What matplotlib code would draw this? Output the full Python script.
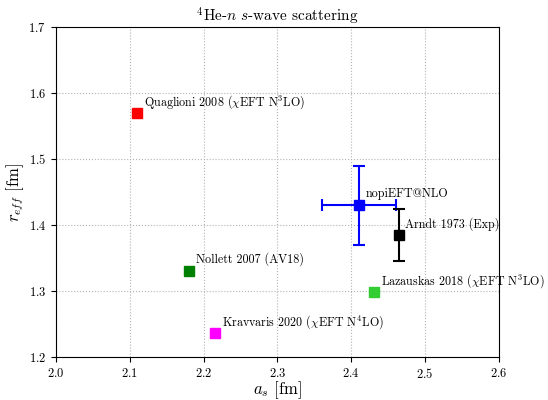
import matplotlib
matplotlib.use("Agg")
from matplotlib import pyplot as plt

plt.rcParams["font.family"] = "serif"
plt.rcParams["font.serif"] = ["cmr10", "DejaVu Serif"]
plt.rcParams["mathtext.fontset"] = "cm"
plt.rcParams["axes.formatter.use_mathtext"] = True

# points without error bars
names = ["Quaglioni 2008 ($\\chi$EFT N$^3$LO)", "Nollett 2007 (AV18)",
         "Kravvaris 2020 ($\\chi$EFT N$^4$LO)", "Lazauskas 2018 ($\\chi$EFT N$^3$LO)"]
a_s = [2.11, 2.18, 2.215, 2.431]
r_eff = [1.57, 1.331, 1.236, 1.298]
colors = ["red", "green", "magenta", "limegreen"]

# points with error bars
err_names = ["nopiEFT@NLO", "Arndt 1973 (Exp)"]
err_a_s = [2.41, 2.464]
err_r_eff = [1.43, 1.385]
err_a_s_unc = [0.05, 0.0]
err_r_eff_unc = [0.06, 0.04]
err_colors = ["blue", "black"]

fig = plt.figure(figsize=(5.48, 4.0), dpi=100)
ax = fig.add_axes([0.102, 0.1075, 0.8085, 0.825])

for name, x, y, c in zip(names, a_s, r_eff, colors):
    ax.plot(x, y, "s", color=c, markersize=7)
    ax.annotate(name, (x, y), xytext=(5, 8), textcoords="offset points",
                ha="left", va="center", fontsize=8.7)

for name, x, y, dx, dy, c in zip(err_names, err_a_s, err_r_eff, err_a_s_unc, err_r_eff_unc, err_colors):
    ax.errorbar(x, y, xerr=dx if dx > 0 else None, yerr=dy, fmt="s", color=c,
                markersize=7, capsize=4, elinewidth=1.5, capthick=1.5)
    ax.annotate(name, (x, y), xytext=(5, 8), textcoords="offset points",
                ha="left", va="center", fontsize=8.7)

ax.set_xlim(2.0, 2.6)
ax.set_ylim(1.2, 1.7)
ax.grid(True, linestyle=":", color="0.7", linewidth=0.8)
ax.tick_params(labelsize=9)
ax.set_xlabel("$a_s$ [fm]", fontsize=12, labelpad=-1)
ax.set_ylabel("$r_{eff}$ [fm]", fontsize=12, labelpad=2)
ax.set_title("$^4$He-$n$ $s$-wave scattering", fontsize=11, pad=4)

fig.savefig("out.png", dpi=100)
